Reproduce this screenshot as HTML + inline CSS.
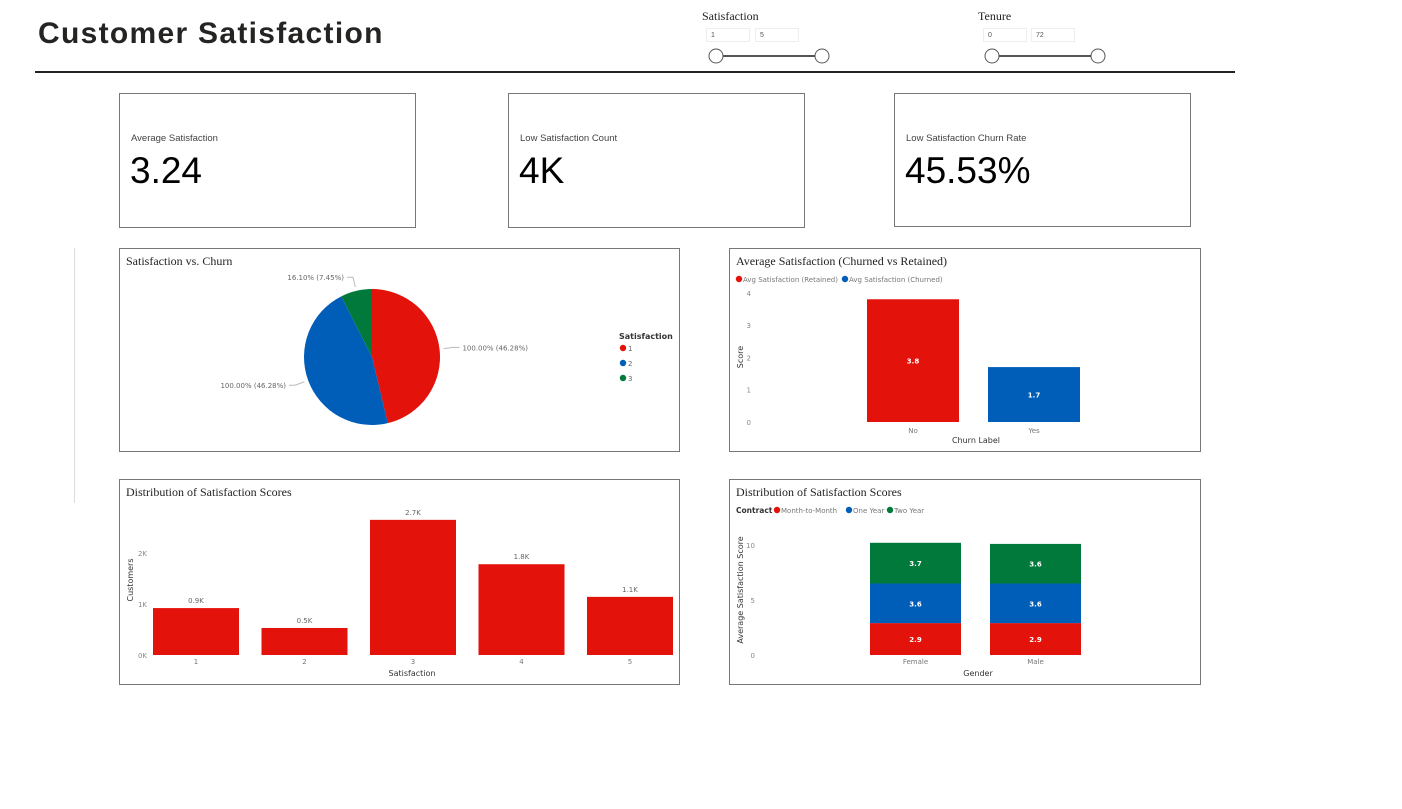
<!DOCTYPE html>
<html><head><meta charset="utf-8">
<style>
body{margin:0;width:1402px;height:809px;background:#fff;font-family:"Liberation Sans",sans-serif;position:relative;overflow:hidden}
.abs{position:absolute}
.card{position:absolute;border:1px solid #777;box-sizing:border-box;background:#fff}
.klabel{position:absolute;left:11px;top:39px;font-size:9.5px;color:#444}
.kval{position:absolute;left:10px;top:56px;font-size:37px;color:#000}
.ttl{position:absolute;left:6px;top:5px;font-family:"Liberation Serif",serif;font-size:12px;color:#222}
.inp{position:absolute;width:44px;height:14px;border:1px solid #eee;font-size:7px;color:#555;padding-left:4px;box-sizing:border-box;line-height:14px}
svg text{font-family:"DejaVu Sans",sans-serif}
</style></head><body>
<div class="abs" style="left:38px;top:17px;font-size:30px;font-weight:bold;color:#252423;letter-spacing:1.3px">Customer Satisfaction</div>
<div class="abs" style="left:35px;top:71px;width:1200px;height:1.5px;background:#222"></div>

<div>
<div class="abs" style="left:702px;top:9px;font-family:'Liberation Serif',serif;font-size:12px;color:#222">Satisfaction</div>
<div class="inp" style="left:706px;top:28px">1</div>
<div class="inp" style="left:755px;top:28px">5</div>
<svg class="abs" style="left:700px;top:44px" width="140" height="24"><line x1="22" y1="12" x2="116" y2="12" stroke="#555" stroke-width="2"/><circle cx="16" cy="12" r="7" fill="#fff" stroke="#555"/><circle cx="122" cy="12" r="7" fill="#fff" stroke="#555"/></svg>
</div>
<div>
<div class="abs" style="left:978px;top:9px;font-family:'Liberation Serif',serif;font-size:12px;color:#222">Tenure</div>
<div class="inp" style="left:983px;top:28px">0</div>
<div class="inp" style="left:1031px;top:28px">72</div>
<svg class="abs" style="left:976px;top:44px" width="140" height="24"><line x1="22" y1="12" x2="116" y2="12" stroke="#555" stroke-width="2"/><circle cx="16" cy="12" r="7" fill="#fff" stroke="#555"/><circle cx="122" cy="12" r="7" fill="#fff" stroke="#555"/></svg>
</div>

<div class="card" style="left:119px;top:93px;width:297px;height:135px"><div class="klabel">Average Satisfaction</div><div class="kval">3.24</div></div>
<div class="card" style="left:508px;top:93px;width:297px;height:135px"><div class="klabel">Low Satisfaction Count</div><div class="kval">4K</div></div>
<div class="card" style="left:894px;top:93px;width:297px;height:134px"><div class="klabel">Low Satisfaction Churn Rate</div><div class="kval">45.53%</div></div>

<div class="abs" style="left:74px;top:248px;width:1px;height:255px;background:#ddd"></div>

<div class="card" style="left:119px;top:248px;width:561px;height:204px"><div class="ttl">Satisfaction vs. Churn</div></div>
<div class="card" style="left:729px;top:248px;width:472px;height:204px"><div class="ttl">Average Satisfaction (Churned vs Retained)</div></div>
<div class="card" style="left:119px;top:479px;width:561px;height:206px"><div class="ttl">Distribution of Satisfaction Scores</div></div>
<div class="card" style="left:729px;top:479px;width:472px;height:206px"><div class="ttl">Distribution of Satisfaction Scores</div></div>

<svg id="charts" class="abs" style="left:0;top:0" width="1402" height="809"></svg>

<script>
const pieCats=["1","2","3"];
const pieVals=[46.28,46.28,7.45];
const pieLabels=["100.00% (46.28%)","100.00% (46.28%)","16.10% (7.45%)"];
const churnCats=["No","Yes"];
const churnVals=[3.8,1.7];
const churnTicks=[0,1,2,3,4];
const distCats=["1","2","3","4","5"];
const distVals=[920,530,2650,1780,1140];
const distLabels=["0.9K","0.5K","2.7K","1.8K","1.1K"];
const distTicks=[0,1000,2000];
const distTickLabels=["0K","1K","2K"];
const genderCats=["Female","Male"];
const mtmVals=[2.9,2.9];
const oneYearVals=[3.6,3.6];
const twoYearVals=[3.7,3.6];
const genderTicks=[0,5,10];

const RED="#e3120b",BLUE="#005eb8",GREEN="#00793a";
const svg=document.getElementById('charts');
const NS="http://www.w3.org/2000/svg";
function mk(tag,attrs,parent){const e=document.createElementNS(NS,tag);for(const k in attrs)e.setAttribute(k,attrs[k]);(parent||svg).appendChild(e);return e;}
function txt(x,y,s,size,fill,anchor,weight){const t=mk('text',{x:x,y:y,'font-size':size,fill:fill,'text-anchor':anchor||'start','font-weight':weight||'normal'});t.textContent=s;return t;}

// Pie
(function(){
 const cx=372,cy=357,r=68;const tot=pieVals.reduce((a,b)=>a+b,0);
 const cols=[RED,BLUE,GREEN];let a0=-Math.PI/2;
 pieVals.forEach((v,i)=>{
  const a1=a0+v/tot*2*Math.PI;
  const x0=cx+r*Math.cos(a0),y0=cy+r*Math.sin(a0),x1=cx+r*Math.cos(a1),y1=cy+r*Math.sin(a1);
  const p=mk('path',{d:`M${cx},${cy}L${x0},${y0}A${r},${r} 0 ${(a1-a0)>Math.PI?1:0} 1 ${x1},${y1}Z`,fill:cols[i]});
  
  
  const am=(a0+a1)/2;const ex=cx+(r+4)*Math.cos(am),ey=cy+(r+4)*Math.sin(am);
  const right=Math.cos(am)>=0;
  const lx=cx+(r+14)*Math.cos(am), ly=cy+(r+14)*Math.sin(am);
  const hx=lx+(right?6:-6);
  mk('polyline',{points:`${ex},${ey} ${lx},${ly} ${hx},${ly}`,fill:'none',stroke:'#bbb','stroke-width':1});
  const t=txt(hx+(right?3:-3),ly+3,pieLabels[i],7,'#666',right?'start':'end');
  
  
  a0=a1;
 });
 const lt=txt(619,339,"Satisfaction",8,'#333','start','bold');
 
 
 pieCats.forEach((c,i)=>{
  const g=mk('g',{});
  
  
  mk('circle',{cx:623,cy:348+i*15,r:3.2,fill:cols[i]},g);
  const t=mk('text',{x:628,y:351+i*15,'font-size':7,fill:'#666'},g);t.textContent=c;
 });
})();

// Churn bars
(function(){
 const base=422,unit=32.3;const y=v=>base-v*unit;
 churnTicks.forEach(t=>{const e=txt(751,y(t)+3,String(t),7,'#888','end');});
 const xs=[867,988],w=92,cols=[RED,BLUE];
 churnVals.forEach((v,i)=>{
  const b=mk('rect',{x:xs[i],y:y(v),width:w,height:v*unit,fill:cols[i]});
  
  
  txt(xs[i]+w/2,(y(v)+base)/2+3,v.toFixed(1),7,'#fff','middle','bold');
  txt(xs[i]+w/2,433,churnCats[i],7,'#777','middle');
 });
 const xt=txt(976,443,"Churn Label",8,'#333','middle');
 const yt=txt(0,0,"Score",8,'#333','middle');yt.setAttribute('transform','translate(743,357) rotate(-90)');
 const leg=[["Avg Satisfaction (Retained)",RED,739],["Avg Satisfaction (Churned)",BLUE,845]];
 leg.forEach(l=>{const g=mk('g',{});mk('circle',{cx:l[2],cy:279,r:3.2,fill:l[1]},g);const t=mk('text',{x:l[2]+4,y:282,'font-size':7,fill:'#777'},g);t.textContent=l[0];});
})();

// Distribution
(function(){
 const base=655,unit=51/1000;const y=v=>base-v*unit;
 distTicks.forEach((t,i)=>{const e=txt(147,y(t)+3,distTickLabels[i],7,'#888','end');});
 const x0=153,step=108.5,w=86;
 distVals.forEach((v,i)=>{
  const x=x0+i*step;
  const b=mk('rect',{x:x,y:y(v),width:w,height:v*unit,fill:RED});
  
  
  txt(x+w/2,y(v)-5,distLabels[i],7,'#666','middle');
  txt(x+w/2,664,distCats[i],7,'#777','middle');
 });
 const xt=txt(412,676,"Satisfaction",8,'#333','middle');
 const yt=txt(0,0,"Customers",8,'#333','middle');yt.setAttribute('transform','translate(133,580) rotate(-90)');
})();

// Gender stacked
(function(){
 const base=655,unit=11;const y=v=>base-v*unit;
 genderTicks.forEach(t=>{const e=txt(755,y(t)+3,String(t),7,'#888','end');});
 const xs=[870,990],w=91;const series=[[mtmVals,RED,'month-to-month'],[oneYearVals,BLUE,'one-year'],[twoYearVals,GREEN,'two-year']];
 genderCats.forEach((g,i)=>{
  let acc=0;
  series.forEach(s=>{
   const v=s[0][i];
   const b=mk('rect',{x:xs[i],y:y(acc+v),width:w,height:v*unit,fill:s[1]});
   
   
   txt(xs[i]+w/2,y(acc+v/2)+3,v.toFixed(1),7,'#fff','middle','bold');
   acc+=v;
  });
  txt(xs[i]+w/2,664,g,7,'#777','middle');
 });
 const xt=txt(978,676,"Gender",8,'#333','middle');
 const yt=txt(0,0,"Average Satisfaction Score",8,'#333','middle');yt.setAttribute('transform','translate(743,590) rotate(-90)');
 const lt=txt(736,513,"Contract",7.5,'#333','start','bold');
 const leg=[["Month-to-Month",RED,777],["One Year",BLUE,849],["Two Year",GREEN,890]];
 leg.forEach(l=>{const g=mk('g',{});mk('circle',{cx:l[2],cy:510,r:3.2,fill:l[1]},g);const t=mk('text',{x:l[2]+4,y:513,'font-size':7,fill:'#777'},g);t.textContent=l[0];});
})();
</script>
</body></html>
